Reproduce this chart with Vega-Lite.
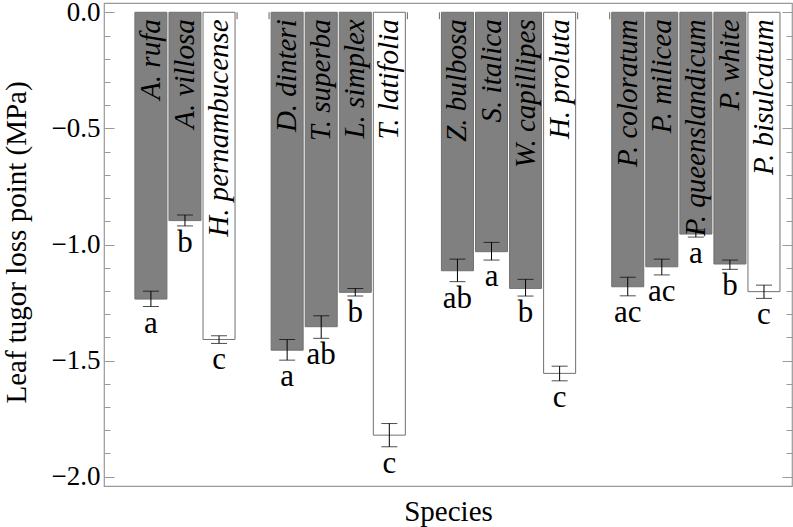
{
  "$schema": "https://vega.github.io/schema/vega-lite/v6.json",
  "width": 688,
  "height": 483,
  "autosize": {"type": "none"},
  "padding": {"left": 104, "top": 3, "right": 1, "bottom": 41},
  "config": {
    "view": {"stroke": "#999999", "strokeWidth": 1.2},
    "axis": {"grid": false, "domain": false, "labelFont": "Liberation Serif", "titleFont": "Liberation Serif", "titleFontWeight": "normal", "tickColor": "#999999", "labelColor": "#000000", "titleColor": "#000000"}
  },
  "data": {
    "values": [
      {"species": "A. rufa", "mean": -1.235, "lo": -1.267, "hi": -1.201, "letter": "a", "pathway": "C4"},
      {"species": "A. villosa", "mean": -0.897, "lo": -0.920, "hi": -0.873, "letter": "b", "pathway": "C4"},
      {"species": "H. pernambucense", "mean": -1.409, "lo": -1.426, "hi": -1.393, "letter": "c", "pathway": "C3"},
      {"species": "D. dinteri", "mean": -1.455, "lo": -1.498, "hi": -1.409, "letter": "a", "pathway": "C4"},
      {"species": "T. superba", "mean": -1.354, "lo": -1.404, "hi": -1.307, "letter": "ab", "pathway": "C4"},
      {"species": "L. simplex", "mean": -1.206, "lo": -1.222, "hi": -1.189, "letter": "b", "pathway": "C4"},
      {"species": "T. latifolia", "mean": -1.821, "lo": -1.871, "hi": -1.771, "letter": "c", "pathway": "C3"},
      {"species": "Z. bulbosa", "mean": -1.113, "lo": -1.160, "hi": -1.063, "letter": "ab", "pathway": "C4"},
      {"species": "S. italica", "mean": -1.031, "lo": -1.067, "hi": -0.991, "letter": "a", "pathway": "C4"},
      {"species": "W. capillipes", "mean": -1.189, "lo": -1.222, "hi": -1.150, "letter": "b", "pathway": "C4"},
      {"species": "H. proluta", "mean": -1.555, "lo": -1.587, "hi": -1.524, "letter": "c", "pathway": "C3"},
      {"species": "P. coloratum", "mean": -1.182, "lo": -1.221, "hi": -1.141, "letter": "ac", "pathway": "C4"},
      {"species": "P. milicea", "mean": -1.096, "lo": -1.131, "hi": -1.063, "letter": "ac", "pathway": "C4"},
      {"species": "P. queenslandicum", "mean": -0.955, "lo": -0.968, "hi": -0.937, "letter": "a", "pathway": "C4"},
      {"species": "P. white", "mean": -1.084, "lo": -1.107, "hi": -1.067, "letter": "b", "pathway": "C4"},
      {"species": "P. bisulcatum", "mean": -1.203, "lo": -1.232, "hi": -1.175, "letter": "c", "pathway": "C3"}
    ]
  },
  "resolve": {"axis": {"x": "independent", "y": "independent"}},
  "layer": [
    {
      "mark": {"type": "bar", "stroke": "#707070", "strokeWidth": 1},
      "encoding": {
        "x": {
          "field": "species", "type": "nominal", "sort": null,
          "scale": {
            "domain": ["A. rufa", "A. villosa", "H. pernambucense", "gap1", "D. dinteri", "T. superba", "L. simplex", "T. latifolia", "gap2", "Z. bulbosa", "S. italica", "W. capillipes", "H. proluta", "gap3", "P. coloratum", "P. milicea", "P. queenslandicum", "P. white", "P. bisulcatum"],
            "paddingInner": 0.06, "paddingOuter": 0.63, "align": 0.72
          },
          "axis": {"title": "Species", "labels": false, "ticks": false, "domain": false, "titleFontSize": 29, "titleY": 34, "titleBaseline": "alphabetic"}
        },
        "y": {
          "field": "mean", "type": "quantitative",
          "scale": {"domain": [-2.04, 0.04], "nice": false, "zero": false},
          "axis": {"orient": "left", "values": [0, -0.5, -1, -1.5, -2], "labelExpr": "datum.value == 0 ? '0.0' : '\u2212' + format(abs(datum.value), '.1f')", "tickSize": -10, "labelPadding": 14, "labelFont": "Liberation Serif", "labelFontSize": 27, "title": "Leaf tugor loss point (MPa)", "titleFontSize": 29, "titleX": -73, "titleY": 239}
        },
        "y2": {"datum": 0},
        "fill": {"field": "pathway", "type": "nominal", "scale": {"domain": ["C4", "C3"], "range": ["#808080", "#ffffff"]}, "legend": null}
      }
    },
    {
      "mark": {"type": "text", "angle": 270, "align": "right", "baseline": "middle", "dx": -7, "font": "Liberation Serif", "fontStyle": "italic", "fontSize": 29, "color": "#000000"},
      "encoding": {
        "x": {"field": "species", "type": "nominal", "axis": null},
        "y": {"datum": 0, "axis": null},
        "text": {"field": "species"}
      }
    },
    {
      "mark": {"type": "rule", "color": "#000000", "strokeWidth": 1},
      "encoding": {
        "x": {"field": "species", "type": "nominal", "axis": null},
        "y": {"field": "lo", "type": "quantitative", "axis": {"orient": "left", "values": [-0.1, -0.2, -0.3, -0.4, -0.6, -0.7, -0.8, -0.9, -1.1, -1.2, -1.3, -1.4, -1.6, -1.7, -1.8, -1.9], "labels": false, "tickSize": -6, "title": null}},
        "y2": {"field": "hi"}
      }
    },
    {
      "mark": {"type": "tick", "color": "#000000", "thickness": 1, "size": 16},
      "encoding": {
        "x": {"field": "species", "type": "nominal", "axis": null},
        "y": {"field": "lo", "type": "quantitative", "axis": {"orient": "right", "values": [0, -0.5, -1, -1.5, -2], "labels": false, "tickSize": -10, "title": null}}
      }
    },
    {
      "mark": {"type": "tick", "color": "#000000", "thickness": 1, "size": 16},
      "encoding": {
        "x": {"field": "species", "type": "nominal", "axis": null},
        "y": {"field": "hi", "type": "quantitative", "axis": {"orient": "right", "values": [-0.1, -0.2, -0.3, -0.4, -0.6, -0.7, -0.8, -0.9, -1.1, -1.2, -1.3, -1.4, -1.6, -1.7, -1.8, -1.9], "labels": false, "tickSize": -6, "title": null}}
      }
    },
    {
      "mark": {"type": "text", "align": "center", "baseline": "top", "dy": 2, "font": "Liberation Serif", "fontSize": 31, "color": "#000000"},
      "encoding": {
        "x": {"field": "species", "type": "nominal", "axis": null},
        "y": {"field": "lo", "type": "quantitative", "axis": null},
        "text": {"field": "letter"}
      }
    },
    {
      "data": {"values": [{"species": "gap1"}, {"species": "gap2"}, {"species": "gap3"}]},
      "mark": {"type": "rule", "color": "#666666", "strokeWidth": 1},
      "encoding": {
        "x": {"field": "species", "type": "nominal", "bandPosition": 0, "axis": null},
        "y": {"datum": 0, "axis": null},
        "y2": {"datum": -0.03}
      }
    },
    {
      "data": {"values": [{"species": "gap1"}, {"species": "gap2"}, {"species": "gap3"}]},
      "mark": {"type": "rule", "color": "#666666", "strokeWidth": 1},
      "encoding": {
        "x": {"field": "species", "type": "nominal", "bandPosition": 1, "axis": null},
        "y": {"datum": 0, "axis": null},
        "y2": {"datum": -0.03}
      }
    }
  ]
}
